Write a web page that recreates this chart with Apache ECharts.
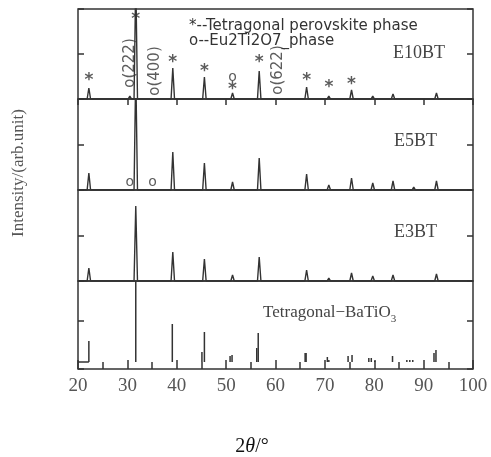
<!DOCTYPE html>
<html>
<head>
    <meta charset="utf-8">
    <title>XRD</title>
    <script src="https://cdn.jsdelivr.net/npm/echarts@6/dist/echarts.min.js"></script>
    <style type="text/css">
        * { margin: 0; padding: 0; }
        body { background: #fff; }
        #main { width: 491px; height: 457px; }
    </style>
</head>
<body>
<div id="main"></div>
<script type="text/javascript">
    // peak positions (2theta) shared by the measured patterns
    var peakPos = [22.2, 30.5, 31.7, 35.6, 39.2, 45.6, 51.3, 56.7, 60.5, 66.3, 70.8, 75.4, 79.7, 83.8, 88.0, 92.6];
    // peak heights per sample (arb. units, 0 = no peak)
    var e10bt = [11, 3, 120, 2, 31, 22, 6, 28, 2, 12, 3, 9, 3, 5, 1, 6];
    var e5bt  = [17, 2, 120, 1, 38, 27, 8, 32, 0, 16, 5, 12, 7, 9, 3, 9];
    var e3bt  = [13, 0, 75, 0, 29, 22, 6, 24, 0, 11, 3, 8, 5, 6, 2, 7];
    // standard card Tetragonal-BaTiO3 sticks
    var stickPos = [22.2, 31.7, 39.1, 45.1, 45.6, 50.8, 51.2, 56.2, 56.5, 66.0, 66.2, 70.5, 70.8, 74.7, 75.5, 78.9, 79.4, 80.1, 83.7, 86.6, 87.2, 87.8, 92.1, 92.5];
    var stickH   = [21, 81, 38, 10, 30, 6, 7, 14, 29, 9, 9, 5, 2, 6, 7, 4, 4, 1, 6, 2, 2, 2, 9, 12];
    var stickBase = 7;
    // phase marks on the E10BT pattern
    var markX    = [22.2, 31.7, 39.2, 45.6, 51.3, 51.3, 56.7, 66.3, 70.8, 75.4, 30.5, 35.6, 60.5];
    var markY    = [18, 79, 36, 27, 22, 9, 36, 18, 11, 14, 36, 28, 29];
    var markText = ['*', '*', '*', '*', 'o', '*', '*', '*', '*', '*', 'o(222)', 'o(400)', 'o(622)'];
    // Eu2Ti2O7 marks on E5BT
    var e5MarkX = [30.5, 35.1];
    var e5MarkY = [8, 8];

    var myChart = echarts.init(document.getElementById('main'));

    var tops = [9, 99, 190, 281];
    var heights = [90, 91, 91, 88];
    var midTick = [45, 45.5, 45.5, 48];

    function trace(heightsArr) {
        var pts = [[20, 0]];
        for (var i = 0; i < peakPos.length; i++) {
            if (!heightsArr[i]) continue;
            pts.push([peakPos[i] - 0.35, 0], [peakPos[i], heightsArr[i]], [peakPos[i] + 0.35, 0]);
        }
        pts.push([100, 0]);
        return pts;
    }

    var grids = [], xAxes = [], yAxes = [];
    for (var g = 0; g < 4; g++) {
        grids.push({
            left: 78, width: 395, top: tops[g], height: heights[g],
            show: true, borderColor: '#333', borderWidth: 1.5,
            backgroundColor: 'transparent', outerBoundsMode: 'none'
        });
        xAxes.push({
            gridIndex: g, type: 'value', min: 20, max: 100, interval: 10,
            position: g === 0 ? 'top' : 'bottom',
            show: g === 0 || g === 3,
            axisLine: { show: false },
            axisTick: { show: true, inside: true, length: g === 3 ? 9 : 6, lineStyle: { color: '#333', width: 1.5 } },
            minorTick: { show: g === 3, splitNumber: 2, length: 7, lineStyle: { color: '#333', width: 1.5 } },
            axisLabel: {
                show: g === 3, margin: 8, color: '#555', fontSize: 19,
                fontFamily: 'Liberation Serif'
            },
            splitLine: { show: false }
        });
        for (var s = 0; s < 2; s++) {
            yAxes.push({
                gridIndex: g, type: 'value', min: 0, max: heights[g], interval: midTick[g],
                position: s === 0 ? 'left' : 'right',
                axisLine: { show: false },
                axisTick: { show: true, inside: true, length: 6, lineStyle: { color: '#333', width: 1.5 } },
                axisLabel: { show: false },
                splitLine: { show: false }
            });
        }
    }

    var lineStyle = { color: '#333', width: 1.4 };
    var markData = [];
    for (var m = 0; m < markX.length; m++) {
        var txt = markText[m];
        var lab = { formatter: txt };
        if (txt.length > 1) { lab.rotate = 90; lab.fontSize = 15; }
        else if (txt === '*') { lab.fontSize = 17; lab.fontWeight = 'bold'; }
        else { lab.fontSize = 14; }
        markData.push({ value: [markX[m], markY[m]], label: lab });
    }
    var e5Data = [];
    for (var k = 0; k < e5MarkX.length; k++) {
        e5Data.push({ value: [e5MarkX[k], e5MarkY[k]], label: { formatter: 'o', fontSize: 14 } });
    }
    var stickData = [];
    for (var t = 0; t < stickPos.length; t++) stickData.push([stickPos[t], stickH[t]]);

    var markLabel = { show: true, position: 'inside', color: '#333', fontSize: 14, fontFamily: 'DejaVu Sans' };

    option = {
        animation: false,
        grid: grids,
        xAxis: xAxes,
        yAxis: yAxes,
        series: [
            { type: 'line', xAxisIndex: 0, yAxisIndex: 0, data: trace(e10bt), showSymbol: false, lineStyle: lineStyle },
            { type: 'line', xAxisIndex: 1, yAxisIndex: 2, data: trace(e5bt), showSymbol: false, lineStyle: lineStyle },
            { type: 'line', xAxisIndex: 2, yAxisIndex: 4, data: trace(e3bt), showSymbol: false, lineStyle: lineStyle },
            { type: 'line', xAxisIndex: 3, yAxisIndex: 6, data: [[20, stickBase], [22.2, stickBase]], showSymbol: false, lineStyle: lineStyle },
            {
                type: 'custom', xAxisIndex: 3, yAxisIndex: 6, data: stickData,
                renderItem: function (params, api) {
                    var x = api.value(0), h = api.value(1);
                    var p0 = api.coord([x, stickBase]);
                    var p1 = api.coord([x, stickBase + h]);
                    return {
                        type: 'line',
                        shape: { x1: p0[0], y1: p0[1], x2: p1[0], y2: p1[1] },
                        style: { stroke: '#333', lineWidth: 1.5 }
                    };
                }
            },
            {
                type: 'scatter', xAxisIndex: 0, yAxisIndex: 0, data: markData, symbolSize: 1,
                itemStyle: { color: 'rgba(0,0,0,0)' }, label: markLabel, silent: true
            },
            {
                type: 'scatter', xAxisIndex: 1, yAxisIndex: 2, data: e5Data, symbolSize: 1,
                itemStyle: { color: 'rgba(0,0,0,0)' }, label: markLabel, silent: true
            }
        ],
        graphic: [
            {
                type: 'text', left: 189, top: 19,
                style: { text: '*--Tetragonal perovskite phase', fill: '#333', font: '15px "DejaVu Sans"' }
            },
            {
                type: 'text', left: 189, top: 34,
                style: { text: 'o--Eu2Ti2O7_phase', fill: '#333', font: '15px "DejaVu Sans"' }
            },
            { type: 'text', left: 393, top: 44, style: { text: 'E10BT', fill: '#444', font: '18px "Liberation Serif"' } },
            { type: 'text', left: 394, top: 132, style: { text: 'E5BT', fill: '#444', font: '18px "Liberation Serif"' } },
            { type: 'text', left: 394, top: 223, style: { text: 'E3BT', fill: '#444', font: '18px "Liberation Serif"' } },
            {
                type: 'text', left: 263, top: 304,
                style: {
                    text: '{a|Tetragonal−BaTiO}{b|3}',
                    rich: {
                        a: { fontSize: 17, fontFamily: 'Liberation Serif', fill: '#444', lineHeight: 24, verticalAlign: 'middle' },
                        b: { fontSize: 11, fontFamily: 'Liberation Serif', fill: '#444', lineHeight: 11, verticalAlign: 'bottom' }
                    }
                }
            },
            {
                type: 'text', x: 19, y: 173, rotation: Math.PI / 2,
                style: {
                    text: 'Intensity/(arb.unit)', fill: '#555', font: '17px "Liberation Serif"',
                    align: 'center', verticalAlign: 'middle'
                }
            },
            {
                type: 'text', x: 252, y: 447,
                style: {
                    text: '{n|2}{t|θ}{n|/°}', align: 'center', verticalAlign: 'middle',
                    rich: {
                        n: { fontSize: 20, fontFamily: 'Liberation Serif', fill: '#111' },
                        t: { fontSize: 20, fontFamily: 'Liberation Serif', fontStyle: 'italic', fill: '#111' }
                    }
                }
            }
        ]
    };

    myChart.setOption(option);
</script>
</body>
</html>
